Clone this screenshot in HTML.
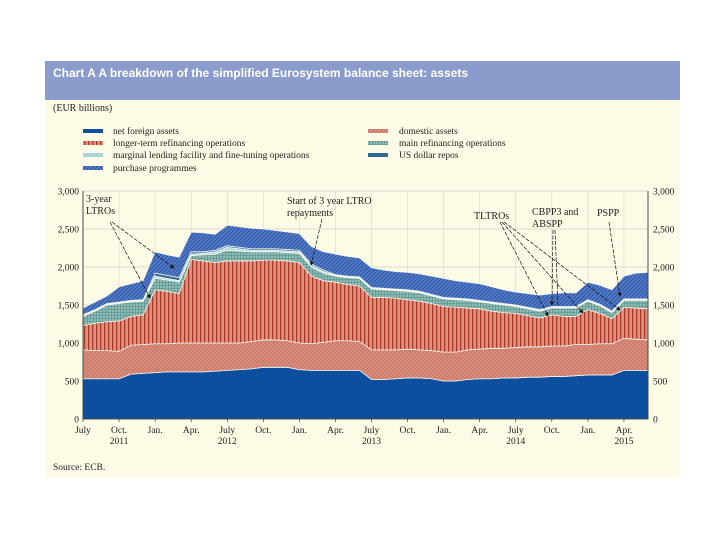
<!DOCTYPE html>
<html><head><meta charset="utf-8"><style>
body{margin:0;background:#fff;width:720px;height:540px;overflow:hidden;font-family:"Liberation Serif",serif}
</style></head><body>
<svg width="720" height="540" xmlns="http://www.w3.org/2000/svg">
<defs>
<pattern id="pNFA" width="3" height="3" patternUnits="userSpaceOnUse"><rect width="3" height="3" fill="#0b4f9e"/></pattern>
<pattern id="pDom" width="4" height="4" patternUnits="userSpaceOnUse"><rect width="4" height="4" fill="#d98c7c"/><path d="M0,4 L4,0" stroke="#c0705e" stroke-width="0.8"/></pattern>
<pattern id="pLTRO" width="4" height="4" patternUnits="userSpaceOnUse"><rect width="4" height="4" fill="#e0907c"/><rect x="0" width="1.3" height="4" fill="#a83a2a"/></pattern>
<pattern id="pMRO" width="3" height="3" patternUnits="userSpaceOnUse"><rect width="3" height="3" fill="#8fbcb4"/><path d="M0,0.5H3M0.5,0V3" stroke="#4f8c88" stroke-width="0.6"/></pattern>
<pattern id="pPP" width="4" height="4" patternUnits="userSpaceOnUse"><rect width="4" height="4" fill="#4f78c4"/><path d="M0,4 L4,0" stroke="#2e55a4" stroke-width="0.9"/></pattern>
<marker id="arr" markerWidth="6" markerHeight="6" refX="5" refY="3" orient="auto"><path d="M0,0 L6,3 L0,6z" fill="#111"/></marker>
</defs>
<rect x="45" y="61" width="635" height="39" fill="#8a9bcc"/>
<text x="53" y="77" font-family="Liberation Sans,sans-serif" font-weight="bold" font-size="12" fill="#fff">Chart A A breakdown of the simplified Eurosystem balance sheet: assets</text>
<rect x="45" y="100" width="635" height="378" fill="#fdfbe6"/>
<text x="53" y="111" font-size="10" fill="#222">(EUR billions)</text>
<g font-size="9.5" fill="#222">
<g><rect x="83" y="129" width="20" height="4" fill="#0b4f9e"/><text x="113" y="134">net foreign assets</text></g>
<g><rect x="83" y="141" width="20" height="4" fill="url(#pLTRO)"/><text x="113" y="146">longer-term refinancing operations</text></g>
<g><rect x="83" y="153" width="20" height="4" fill="#a9d4dc"/><text x="113" y="158">marginal lending facility and fine-tuning operations</text></g>
<g><rect x="83" y="166" width="20" height="4" fill="url(#pPP)"/><text x="113" y="171">purchase programmes</text></g>
<g><rect x="368" y="129" width="20" height="4" fill="url(#pDom)"/><text x="399" y="134">domestic assets</text></g>
<g><rect x="368" y="141" width="20" height="4" fill="url(#pMRO)"/><text x="399" y="146">main refinancing operations</text></g>
<g><rect x="368" y="153" width="20" height="4" fill="#2f6a8e"/><text x="399" y="158">US dollar repos</text></g>
</g>
<g id="plot"></g>
<g font-size="10" fill="#222">
<text x="86" y="202">3-year</text><text x="86" y="214">LTROs</text>
<text x="287" y="204">Start of 3 year LTRO</text><text x="287" y="216">repayments</text>
<text x="474" y="219">TLTROs</text>
<text x="532" y="215">CBPP3 and</text><text x="532" y="227">ABSPP</text>
<text x="597" y="216">PSPP</text>
<g stroke="#111" stroke-width="0.7" stroke-dasharray="4,1.5" fill="none">
<path d="M110,222 L150,298" marker-end="url(#arr)"/>
<path d="M112,222 L174,268" marker-end="url(#arr)"/>
<path d="M322,219 L311,265" marker-end="url(#arr)"/>
<path d="M500,222 L548,316" marker-end="url(#arr)"/>
<path d="M502,222 L583,313" marker-end="url(#arr)"/>
<path d="M504,222 L620,310" marker-end="url(#arr)"/>
<path d="M553,230 L552,305" marker-end="url(#arr)"/>
<path d="M555,230 L558,305"/>
<path d="M609,222 L620,296" marker-end="url(#arr)"/>
</g>
</g>
<text x="53" y="470" font-size="9.5" fill="#222">Source: ECB.</text>
</svg>
<script>
const nfa=[530,530,530,530,590,600,610,620,620,620,620,630,640,650,660,680,680,680,650,640,640,640,640,640,520,520,530,540,540,530,500,500,520,530,530,540,540,550,550,560,560,570,580,580,580,640,640,640];
const domestic=[380,370,370,360,380,380,380,370,380,380,380,370,360,350,360,360,360,350,350,350,370,390,390,380,390,390,380,380,370,370,380,380,390,390,400,390,400,400,400,400,400,410,400,410,410,420,410,400];
const ltro=[320,360,380,400,380,390,710,690,650,1100,1080,1060,1080,1080,1060,1050,1050,1050,1060,890,810,770,740,730,690,690,680,650,640,620,600,590,550,530,490,470,450,410,380,410,390,370,460,400,330,410,410,410];
const mro=[120,160,220,230,190,180,150,150,150,50,80,110,140,130,120,110,110,110,120,120,100,80,90,100,110,100,100,110,110,100,100,100,100,90,100,100,90,90,90,90,110,110,110,100,80,90,100,110];
const mlf=[10,10,10,10,10,10,30,20,20,20,20,30,40,30,20,20,20,20,20,20,20,10,10,10,10,10,10,10,10,10,10,10,10,10,10,10,10,10,10,10,10,10,10,10,10,10,10,10];
const usd=[10,10,10,10,10,10,40,40,40,30,20,20,20,20,20,20,20,20,20,20,20,10,10,10,10,10,10,10,10,10,10,10,10,10,10,10,10,10,10,10,10,10,10,10,10,10,10,10];
const purchase=[90,100,100,200,220,250,280,270,270,260,250,210,270,270,270,260,240,230,220,230,240,270,260,250,260,240,230,230,230,240,250,230,220,220,200,180,170,180,190,170,180,180,230,250,280,300,340,350];
const yTicks=[0,500,1000,1500,2000,2500,3000];
const yTickLabels=["0","500","1,000","1,500","2,000","2,500","3,000"];
const xTickMonths=[0,3,6,9,12,15,18,21,24,27,30,33,36,39,42,45];
const xTickLabels=["July","Oct.","Jan.","Apr.","July","Oct.","Jan.","Apr.","July","Oct.","Jan.","Apr.","July","Oct.","Jan.","Apr."];
const yearLabels=["2011","2012","2013","2014","2015"];
const yearMonths=[3,12,24,36,45];

const X0=83,X1=648,Y0=419,Y1=191,NM=48;
const xs=m=>X0+m*(X1-X0)/(NM-1);
const ys=v=>Y0-(v/3000)*(Y0-Y1);
const NS="http://www.w3.org/2000/svg";
const plot=document.getElementById('plot');
function mk(tag,attrs,parent){const e=document.createElementNS(NS,tag);for(const k in attrs)e.setAttribute(k,attrs[k]);(parent||plot).appendChild(e);return e;}

yTicks.forEach((v,i)=>{
  const g=mk('line',{x1:X0,x2:X1,y1:ys(v),y2:ys(v),stroke:'#b8b8b0','stroke-width':0.6});
  
  
});
xTickMonths.forEach(m=>{
  const g=mk('line',{x1:xs(m),x2:xs(m),y1:Y1,y2:Y0,stroke:'#d0d0c8','stroke-width':0.5});
  
  
});

const series=[
 {name:'net-foreign-assets-area',vals:nfa,fill:'url(#pNFA)'},
 {name:'domestic-assets-area',vals:domestic,fill:'url(#pDom)'},
 {name:'ltro-area',vals:ltro,fill:'url(#pLTRO)'},
 {name:'mro-area',vals:mro,fill:'url(#pMRO)'},
 {name:'marginal-lending-area',vals:mlf,fill:'#b4dce6'},
 {name:'usd-repos-area',vals:usd,fill:'#2f6a8e'},
 {name:'purchase-programmes-area',vals:purchase,fill:'url(#pPP)'}
];
let base=new Array(NM).fill(0);
series.forEach(s=>{
  const top=base.map((b,i)=>b+s.vals[i]);
  let d='M'+xs(0)+','+ys(top[0]);
  for(let i=1;i<NM;i++)d+=' L'+xs(i)+','+ys(top[i]);
  for(let i=NM-1;i>=0;i--)d+=' L'+xs(i)+','+ys(base[i]);
  d+='Z';
  const p=mk('path',{d:d,fill:s.fill,stroke:'#f4f4ee','stroke-width':0.8});
  
  
  base=top;
});

const ax=mk('path',{d:`M${X0},${Y1} V${Y0} H${X1} V${Y1}`,fill:'none',stroke:'#222','stroke-width':0.8});


yTicks.forEach((v,i)=>{
  const t=mk('text',{x:X0-4,y:ys(v)+3.5,'text-anchor':'end','font-size':9.5,fill:'#222'});
  t.textContent=yTickLabels[i];
  
  
  const t2=mk('text',{x:X1+5,y:ys(v)+3.5,'font-size':9.5,fill:'#222'});
  t2.textContent=yTickLabels[i];
  
  
});
xTickMonths.forEach((m,i)=>{
  mk('line',{x1:xs(m),x2:xs(m),y1:Y0,y2:Y0+3,stroke:'#222','stroke-width':0.6});
  const t=mk('text',{x:xs(m),y:Y0+14,'text-anchor':'middle','font-size':9.5,fill:'#222'});
  t.textContent=xTickLabels[i];
  
  
});
yearLabels.forEach((y,i)=>{
  const t=mk('text',{x:xs(yearMonths[i]),y:Y0+25,'text-anchor':'middle','font-size':9.5,fill:'#222'});
  t.textContent=y;
  
  
});
</script>
</body></html>
